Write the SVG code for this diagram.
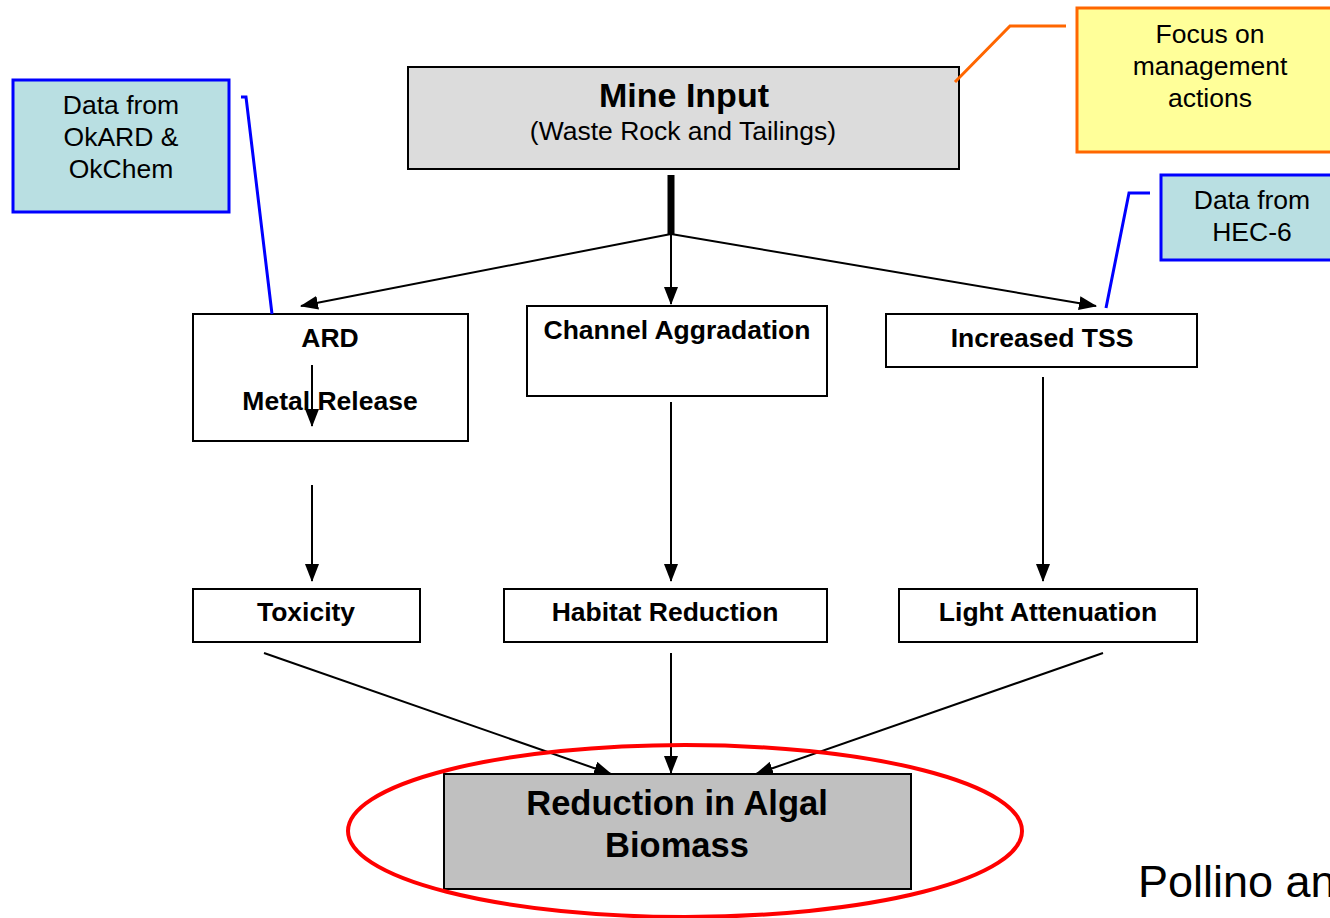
<svg xmlns="http://www.w3.org/2000/svg" width="1330" height="918" viewBox="0 0 1330 918">
<style>
.box{fill:#fff;stroke:#000;stroke-width:2}
.lbl{font-family:"Liberation Sans",Arial,sans-serif;font-weight:bold;font-size:26.5px;fill:#000;text-anchor:middle}
.reg{font-family:"Liberation Sans",Arial,sans-serif;font-size:26.5px;fill:#000;text-anchor:middle}
.con{stroke:#000;stroke-width:2;fill:none}
.blue{stroke:#0000ff;stroke-width:3;fill:none}
.orange{stroke:#ff6600;stroke-width:3;fill:none}
</style>
<defs>
<marker id="ah" markerUnits="userSpaceOnUse" markerWidth="18" markerHeight="14" viewBox="0 0 18 14" refX="17" refY="7" orient="auto">
<path d="M0,0 L18,7 L0,14 Z" fill="#000"/>
</marker>
</defs>
<rect width="1330" height="918" fill="#fff"/>

<g id="data-okard">
<rect x="13" y="80" width="216" height="132" fill="#b9dfe2" stroke="#0000ff" stroke-width="3"/>
<text class="reg" x="121" y="114">Data from</text>
<text class="reg" x="121" y="146">OkARD &amp;</text>
<text class="reg" x="121" y="178">OkChem</text>
</g>

<g id="mine-input">
<rect x="408" y="67" width="551" height="102" fill="#dcdcdc" stroke="#000" stroke-width="2"/>
<text class="lbl" x="684" y="107" style="font-size:34px">Mine Input</text>
<text class="reg" x="683" y="140">(Waste Rock and Tailings)</text>
</g>

<g id="focus">
<rect x="1077" y="8" width="270" height="144" fill="#ffff99" stroke="#ff6600" stroke-width="3"/>
<text class="reg" x="1210" y="43">Focus on</text>
<text class="reg" x="1210" y="75">management</text>
<text class="reg" x="1210" y="107">actions</text>
</g>

<g id="data-hec6">
<rect x="1161" y="175" width="190" height="85" fill="#b9dfe2" stroke="#0000ff" stroke-width="3"/>
<text class="reg" x="1252" y="209">Data from</text>
<text class="reg" x="1252" y="241">HEC-6</text>
</g>

<g id="ard">
<rect class="box" x="193" y="314" width="275" height="127"/>
<text class="lbl" x="330" y="347">ARD</text>
<text class="lbl" x="330" y="410">Metal Release</text>
</g>

<g id="channel">
<rect class="box" x="527" y="306" width="300" height="90"/>
<text class="lbl" x="677" y="339">Channel Aggradation</text>
</g>

<g id="tss">
<rect class="box" x="886" y="314" width="311" height="53"/>
<text class="lbl" x="1042" y="347">Increased TSS</text>
</g>

<g id="toxicity">
<rect class="box" x="193" y="589" width="227" height="53"/>
<text class="lbl" x="306" y="621">Toxicity</text>
</g>

<g id="habitat">
<rect class="box" x="504" y="589" width="323" height="53"/>
<text class="lbl" x="665" y="621">Habitat Reduction</text>
</g>

<g id="light">
<rect class="box" x="899" y="589" width="298" height="53"/>
<text class="lbl" x="1048" y="621">Light Attenuation</text>
</g>

<g id="reduction">
<rect x="444" y="774" width="467" height="115" fill="#c0c0c0" stroke="#000" stroke-width="2"/>
<text class="lbl" x="677" y="815" style="font-size:34.5px">Reduction in Algal</text>
<text class="lbl" x="677" y="857" style="font-size:34.5px">Biomass</text>
</g>

<g id="connectors">
<line x1="671" y1="175" x2="671" y2="235" stroke="#000" stroke-width="7"/>
<line class="con" x1="671" y1="234" x2="301" y2="306" marker-end="url(#ah)"/>
<line class="con" x1="671" y1="234" x2="671" y2="304" marker-end="url(#ah)"/>
<line class="con" x1="671" y1="234" x2="1096" y2="306" marker-end="url(#ah)"/>
<line class="con" x1="312" y1="365" x2="312" y2="426" marker-end="url(#ah)"/>
<line class="con" x1="312" y1="485" x2="312" y2="581" marker-end="url(#ah)"/>
<line class="con" x1="671" y1="402" x2="671" y2="581" marker-end="url(#ah)"/>
<line class="con" x1="1043" y1="377" x2="1043" y2="581" marker-end="url(#ah)"/>
<line class="con" x1="264" y1="653" x2="611" y2="774" marker-end="url(#ah)"/>
<line class="con" x1="671" y1="653" x2="671" y2="773" marker-end="url(#ah)"/>
<line class="con" x1="1103" y1="653" x2="756" y2="774" marker-end="url(#ah)"/>
<polyline class="blue" points="241,97 246,97 272,314"/>
<polyline class="blue" points="1150,193 1129,193 1106,308"/>
<polyline class="orange" points="955,82 1010,26 1066,26"/>
</g>

<ellipse id="highlight" cx="685" cy="831" rx="337" ry="86" fill="none" stroke="#ff0000" stroke-width="4"/>

<text x="1138" y="897" style="font-family:'Liberation Sans',Arial,sans-serif;font-size:45px;fill:#000">Pollino an</text>
</svg>
